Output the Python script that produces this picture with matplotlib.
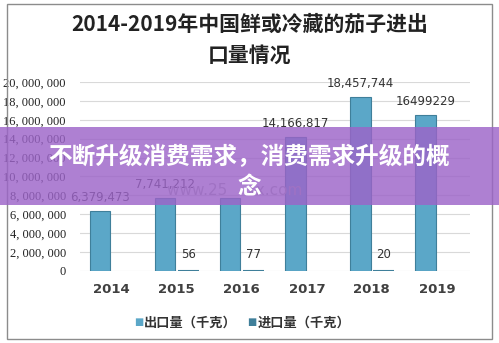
import numpy as np
import matplotlib.pyplot as plt
from matplotlib.patches import Rectangle

plt.rcParams['font.family'] = ['Noto Sans CJK SC', 'DejaVu Sans']

years = ['2014', '2015', '2016', '2017', '2018', '2019']
export_kg = [6379473, 7741212, 7700000, 14166817, 18457744, 16499229]
import_kg = [0, 56, 77, 0, 20, 0]
export_labels = ['6,379,473', '7,741,212', '', '14,166,817', '18,457,744', '16499229']
import_labels = ['', '56', '77', '', '20', '']
yticks = [0, 2e6, 4e6, 6e6, 8e6, 10e6, 12e6, 14e6, 16e6, 18e6, 20e6]
ytick_labels = ['0', '2, 000, 000', '4, 000, 000', '6, 000, 000', '8, 000, 000',
                '10, 000, 000', '12, 000, 000', '14, 000, 000', '16, 000, 000',
                '18, 000, 000', '20, 000, 000']

fig = plt.figure(figsize=(4.99, 3.43), dpi=100)
ax = fig.add_axes([0.160, 0.210, 0.782, 0.551])

x = np.arange(len(years))
w = 0.32
ax.bar(x - w / 2 - 0.02, export_kg, w, color='#5ba7c8', edgecolor='#3f7f9a', linewidth=0.8, zorder=3)
imp_lw = [1.5 if v > 0 else 0 for v in import_kg]
ax.bar(x + w / 2 + 0.02, import_kg, w, color='#3f7f9a', edgecolor='#3f7f9a', linewidth=imp_lw, zorder=3)

for i in range(len(years)):
    if export_labels[i]:
        ax.annotate(export_labels[i], (x[i] - w / 2 - 0.02, export_kg[i]), xytext=(0, 5),
                    textcoords='offset points', ha='center', va='bottom',
                    fontsize=8.5, color='#333333', family='DejaVu Sans')
    if import_labels[i]:
        ax.annotate(import_labels[i], (x[i] + w / 2 + 0.02, import_kg[i]), xytext=(0, 7),
                    textcoords='offset points', ha='center', va='bottom',
                    fontsize=8.5, color='#333333', family='DejaVu Sans')

ax.set_xlim(-0.49, 5.51)
ax.set_ylim(0, 20e6)
ax.set_yticks(yticks)
ax.set_yticklabels(ytick_labels, family='Liberation Serif', fontsize=9, color='#222222')
ax.set_xticks(x)
ax.set_xticklabels(years, fontsize=9.5, fontweight='bold', color='#404040', family='DejaVu Sans')
ax.tick_params(length=0, pad=9)
ax.tick_params(axis='y', pad=10)
ax.grid(axis='y', color='#d9d9d9', linewidth=0.8, zorder=0)
for s in ax.spines.values():
    s.set_visible(False)

# title
fig.text(0.5, 0.930, '2014-2019年中国鲜或冷藏的茄子进出', ha='center', va='center',
         fontsize=15, fontweight='bold', color='#222222')
fig.text(0.5, 0.840, '口量情况', ha='center', va='center',
         fontsize=15, fontweight='bold', color='#222222')

# legend
fig.text(0.279, 0.060, '■', ha='center', va='center', fontsize=7, color='#5ba7c8', family='DejaVu Sans')
fig.text(0.289, 0.060, '出口量（千克）', ha='left', va='center', fontsize=9.5,
         fontweight='bold', color='#333333')
fig.text(0.505, 0.060, '■', ha='center', va='center', fontsize=7, color='#3f7f9a', family='DejaVu Sans')
fig.text(0.516, 0.060, '进口量（千克）', ha='left', va='center', fontsize=9.5,
         fontweight='bold', color='#333333')

# watermark
fig.text(0.47, 0.445, 'www.25    xx.com', ha='center', va='center', fontsize=11,
         color='#b0b0b0', family='DejaVu Sans')

# outer border
fig.patches.append(Rectangle((7 / 499, 4 / 343), 485 / 499, 335 / 343, transform=fig.transFigure,
                             fill=False, edgecolor='#8c8c8c', linewidth=1.0))

# purple banner
fig.patches.append(Rectangle((0, 1 - 205 / 343), 1, 78 / 343, transform=fig.transFigure,
                             facecolor='#9c64c8', alpha=0.82, edgecolor='none', zorder=10))
fig.text(0.5, 1 - 157 / 343, '不断升级消费需求，消费需求升级的概', ha='center', va='center',
         fontsize=17, fontweight='bold', color='white', zorder=11)
fig.text(0.5, 1 - 188 / 343, '念', ha='center', va='center',
         fontsize=17, fontweight='bold', color='white', zorder=11)

fig.savefig('out.png', dpi=100)
